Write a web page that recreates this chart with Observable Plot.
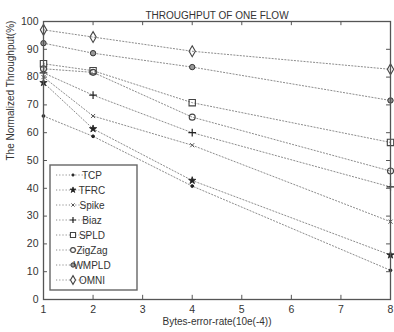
<!DOCTYPE html>
<html><head><meta charset="utf-8">
<script src="https://cdn.jsdelivr.net/npm/d3@7"></script>
<script src="https://cdn.jsdelivr.net/npm/@observablehq/plot@0.6"></script>
<style>
body{margin:0;background:#fff;}
#chart{position:relative;width:394px;height:332px;}
#chart svg{font-family:"Liberation Sans",Arial,sans-serif;}
</style>
</head><body><div id="chart"></div>
<script>
// ---- data ----
const xValues = [1, 2, 4, 8];
const seriesNames = ["TCP", "TFRC", "Spike", "Biaz", "SPLD", "ZigZag", "WMPLD", "OMNI"];
const tcp    = [66.0, 58.7, 40.8, 10.5];
const tfrc   = [78.0, 61.4, 42.8, 16.0];
const spike  = [80.0, 66.0, 55.5, 28.0];
const biaz   = [81.5, 73.5, 60.0, 40.5];
const spld   = [84.8, 82.3, 70.8, 56.5];
const zigzag = [83.0, 81.7, 65.6, 46.2];
const wmpld  = [92.2, 88.6, 83.6, 71.6];
const omni   = [97.0, 94.4, 89.3, 82.8];
const xTicks = [1, 2, 3, 4, 5, 6, 7, 8];
const yTicks = [0, 10, 20, 30, 40, 50, 60, 70, 80, 90, 100];
const titleText = "THROUGHPUT OF ONE FLOW";
const xLabel = "Bytes-error-rate(10e(-4))";
const yLabel = "The Normalized Throughput(%)";

const seriesValues = [tcp, tfrc, spike, biaz, spld, zigzag, wmpld, omni];

// ---- styles ----
const markerStyles = [
  {symbol: "circle",  r: 1.4, fill: "#222", stroke: "#222", sw: 1},
  {symbol: "star",    r: 2.3, fill: "#222", stroke: "#222", sw: 0.8},
  {symbol: "times",   r: 2.0, fill: "none", stroke: "#555", sw: 1},
  {symbol: "plus",    r: 2.6, fill: "none", stroke: "#222", sw: 1.2},
  {symbol: "square",  r: 3.6, fill: "none", stroke: "#444", sw: 1.1},
  {symbol: "circle",  r: 3.0, fill: "none", stroke: "#444", sw: 1.1},
  {symbol: "circle",  r: 2.7, fill: "#999", stroke: "#333", sw: 1},
  {symbol: "diamond", r: 3.3, fill: "none", stroke: "#444", sw: 1.1}
];
const lineColor = "#8c8c8c";
const dash = "1.2,2";
const axisColor = "#555";
const textColor = "#333";

const rows = seriesNames.map((name, i) => xValues.map((x, j) => ({series: name, x, y: seriesValues[i][j]})));

const marks = [];
rows.forEach((data) => {
  marks.push(Plot.line(data, {x: "x", y: "y", stroke: lineColor, strokeWidth: 1, strokeDasharray: dash}));
});
rows.forEach((data, i) => {
  const s = markerStyles[i];
  marks.push(Plot.dot(data, {x: "x", y: "y", symbol: () => s.symbol, r: s.r, fill: s.fill, stroke: s.stroke, strokeWidth: s.sw}));
});
// inward ticks (MATLAB style) on all four sides
marks.push(Plot.ruleX(xTicks, {x: d => d, y1: 0, y2: 1.5, stroke: axisColor}));
marks.push(Plot.ruleX(xTicks, {x: d => d, y1: 98.5, y2: 100, stroke: axisColor}));
marks.push(Plot.ruleY(yTicks, {y: d => d, x1: 1, x2: 1.08, stroke: axisColor}));
marks.push(Plot.ruleY(yTicks, {y: d => d, x1: 7.92, x2: 8, stroke: axisColor}));
marks.push(Plot.frame({stroke: axisColor, strokeWidth: 1.3}));
marks.push(Plot.text([titleText], {frameAnchor: "top", dy: -10, fontSize: 10, fill: textColor}));
marks.push(Plot.text([xLabel], {frameAnchor: "bottom", dy: 25, fontSize: 10, fill: textColor}));
marks.push(Plot.text([yLabel], {frameAnchor: "left", dx: -33, rotate: -90, fontSize: 10, fill: textColor}));

const chart = Plot.plot({
  width: 394,
  height: 332,
  marginTop: 21,
  marginBottom: 33,
  marginLeft: 43,
  marginRight: 4,
  style: {background: "#fff", color: textColor, fontSize: "10.5px", overflow: "visible"},
  x: {domain: [1, 8], ticks: xTicks, tickSize: 0, tickPadding: 6, label: null, tickFormat: d => String(d)},
  y: {domain: [0, 100], ticks: yTicks, tickSize: 0, tickPadding: 5, label: null, tickFormat: d => String(d)},
  marks
});
document.getElementById("chart").appendChild(chart);

// ---- legend (drawn with d3 inside the plot's svg) ----
const svg = d3.select(chart);
const lg = svg.append("g").attr("class", "legend");
const box = {x: 50, y: 165, w: 87, h: 125};
lg.append("rect").attr("x", box.x).attr("y", box.y).attr("width", box.w).attr("height", box.h)
  .attr("fill", "#fff").attr("stroke", "#666").attr("stroke-width", 1.4);
const symMap = {circle: d3.symbolCircle, star: d3.symbolStar, times: d3.symbolTimes, plus: d3.symbolPlus,
  square: d3.symbolSquare, diamond: d3.symbolDiamond};
seriesNames.forEach((name, i) => {
  const cy = 175 + 15 * i;
  const s = markerStyles[i];
  lg.append("line").attr("x1", 56).attr("x2", 90).attr("y1", cy).attr("y2", cy)
    .attr("stroke", lineColor).attr("stroke-dasharray", dash);
  const rr = s.r * 0.8;
  lg.append("path").attr("d", d3.symbol(symMap[s.symbol], Math.PI * rr * rr)())
    .attr("transform", `translate(73,${cy})`)
    .attr("fill", s.fill === "none" ? "#fff" : s.fill).attr("stroke", s.stroke).attr("stroke-width", s.sw);
  lg.append("text").attr("x", 92).attr("y", cy).attr("dy", "0.35em")
    .attr("font-size", 10).attr("fill", textColor).text(name);
});
</script>
</body></html>
